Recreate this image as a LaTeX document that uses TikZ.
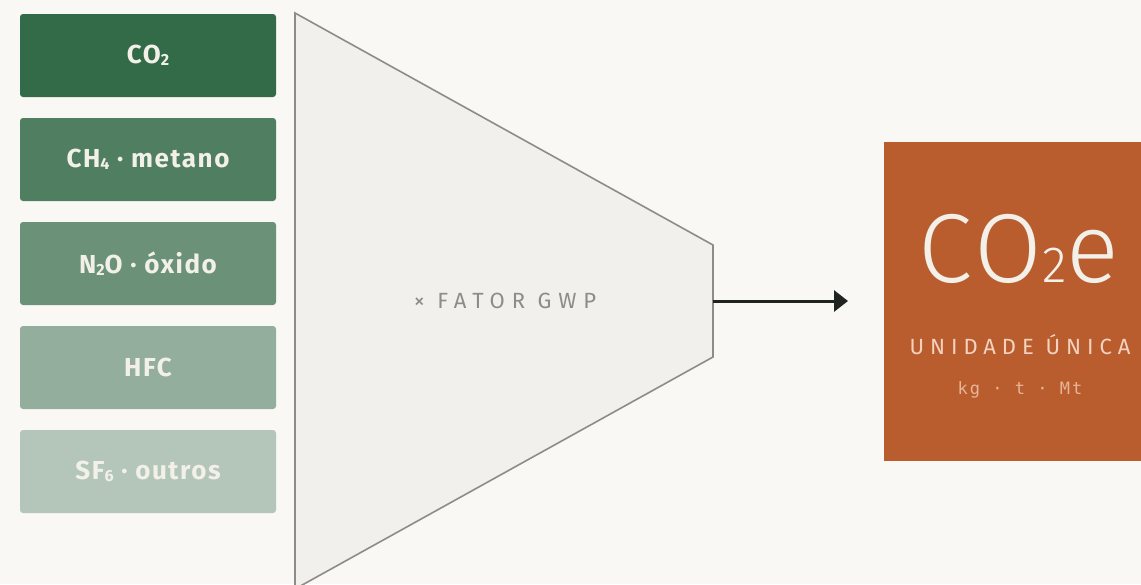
\documentclass[tikz,border=0pt]{standalone}
\usepackage{fontspec}
\usepackage{graphicx}
\setmainfont{Fira Sans}
\newfontfamily\lightfont{Fira Sans Light}
\newfontfamily\monofont{DejaVu Sans Mono}
\usetikzlibrary{arrows.meta}
\definecolor{paper}{HTML}{F9F8F4}
\definecolor{funnelfill}{HTML}{F1F0EC}
\definecolor{funneledge}{HTML}{8C8C88}
\definecolor{gasA}{HTML}{336B49}
\definecolor{gasB}{HTML}{4F7E61}
\definecolor{gasC}{HTML}{6B9279}
\definecolor{gasD}{HTML}{93AE9C}
\definecolor{gasE}{HTML}{B4C6BA}
\definecolor{cream}{HTML}{F2F0E8}
\definecolor{rust}{HTML}{B95D2F}
\definecolor{peach}{HTML}{F3D3BF}
\definecolor{peachdim}{HTML}{E8B596}
\definecolor{ink}{HTML}{1F2421}
\newcommand{\gsub}[1]{\raisebox{-0.06em}{\scalebox{0.62}{#1}}}
\newcommand{\bigsub}[1]{\scalebox{0.52}{#1}}
\begin{document}
\begin{tikzpicture}[x=1pt,y=-1pt,
  gasbox/.style={rounded corners=3pt,minimum width=256pt,minimum height=83pt,
    text=cream,font=\fontsize{26}{29}\selectfont\bfseries\addfontfeature{LetterSpace=6},inner sep=0pt},
  funnel/.style={fill=funnelfill,draw=funneledge,line width=1.6pt,line join=miter},
  flow/.style={draw=ink,line width=3pt,-{Triangle[length=14pt,width=21pt]}}]
 \fill[paper](0,0) rectangle (1141,584);
 \useasboundingbox (0,0) rectangle (1141,584);
 % gases
 \foreach \name/\txt/\col [count=\i from 0] in
   {co/{CO\gsub{2}}/gasA, ch/{CH\gsub{4} · metano}/gasB, no/{N\gsub{2}O · óxido}/gasC,
    hfc/HFC/gasD, sf/{SF\gsub{6} · outros}/gasE}
   \node[gasbox,fill=\col] (\name) at (148,55.5+104*\i) {\txt};
 % funnel
 \begin{scope}
  \clip (0,0) rectangle (1141,584);
  \draw[funnel] (295,13) -- (713,245) -- (713,357) -- (295,589) -- cycle;
 \end{scope}
 \node[text=funneledge,font=\fontsize{22}{24}\selectfont\addfontfeature{LetterSpace=31}] (gwp) at (505,301) {× FATOR GWP};
 \coordinate (gwpout) at (713,301);
 % result
 \node[fill=rust,minimum width=280pt,minimum height=319pt,inner sep=0pt,anchor=north west] (res) at (884,142) {};
 \node[text=cream,font=\fontsize{98}{100}\selectfont\lightfont\addfontfeature{LetterSpace=4},anchor=base] (coe) at (1019,282) {CO\bigsub{2}e};
 \node[text=peach,font=\fontsize{22}{24}\selectfont\addfontfeature{LetterSpace=27}] (unit) at (1020,345) {UNIDADE ÚNICA};
 \node[text=peachdim,font=\fontsize{17}{19}\selectfont\monofont\addfontfeature{LetterSpace=12}] (mass) at (1020,390) {kg · t · Mt};
 \draw[flow] (gwpout) -- ([xshift=-36pt]res.west |- gwpout);
\end{tikzpicture}
\end{document}
